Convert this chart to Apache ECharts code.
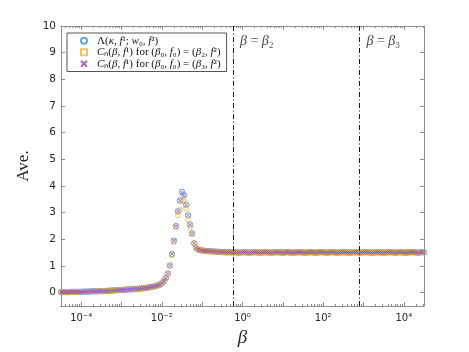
<!DOCTYPE html>
<html>
<head>
<meta charset="utf-8">
<script src="https://cdn.jsdelivr.net/npm/echarts@6/dist/echarts.min.js"></script>
<style>
html, body { margin: 0; padding: 0; background: #fff; }
#chart { width: 469px; height: 352px; }
</style>
</head>
<body>
<div id="chart"></div>
<script>
// x positions as log10(beta)
const log10Beta = [
    -4.5, -4.45, -4.4, -4.35, -4.3, -4.25, -4.2, -4.15, -4.1, -4.05,
    -4.0, -3.95, -3.9, -3.85, -3.8, -3.75, -3.7, -3.65, -3.6, -3.55,
    -3.5, -3.45, -3.4, -3.35, -3.3, -3.25, -3.2, -3.15, -3.1, -3.05,
    -3.0, -2.95, -2.9, -2.85, -2.8, -2.75, -2.7, -2.65, -2.6, -2.55,
    -2.5, -2.45, -2.4, -2.35, -2.3, -2.25, -2.2, -2.15, -2.1,
    -2.05, -2.0, -1.95, -1.9, -1.85, -1.8, -1.75, -1.7, -1.65, -1.6, -1.55, -1.5, -1.45, -1.4,
    -1.35, -1.3, -1.25, -1.2, -1.15, -1.1, -1.05, -1.0, -0.95, -0.9, -0.85, -0.8, -0.75, -0.7,
    -0.65, -0.6, -0.55,
    -0.5, -0.45, -0.4, -0.35, -0.3, -0.25, -0.2, -0.15, -0.1, -0.05,
    0.0, 0.05, 0.1, 0.15, 0.2, 0.25, 0.3, 0.35, 0.4, 0.45,
    0.5, 0.55, 0.6, 0.65, 0.7, 0.75, 0.8, 0.85, 0.9, 0.95,
    1.0, 1.05, 1.1, 1.15, 1.2, 1.25, 1.3, 1.35, 1.4, 1.45,
    1.5, 1.55, 1.6, 1.65, 1.7, 1.75, 1.8, 1.85, 1.9, 1.95,
    2.0, 2.05, 2.1, 2.15, 2.2, 2.25, 2.3, 2.35, 2.4, 2.45,
    2.5, 2.55, 2.6, 2.65, 2.7, 2.75, 2.8, 2.85, 2.9, 2.95,
    3.0, 3.05, 3.1, 3.15, 3.2, 3.25, 3.3, 3.35, 3.4, 3.45,
    3.5, 3.55, 3.6, 3.65, 3.7, 3.75, 3.8, 3.85, 3.9, 3.95,
    4.0, 4.05, 4.1, 4.15, 4.2, 4.25, 4.3, 4.35, 4.4, 4.45,
    4.5
];
const lambdaAve = [
    0.02, 0.02, 0.02, 0.02, 0.02, 0.03, 0.03, 0.03, 0.03, 0.03,
    0.03, 0.04, 0.04, 0.04, 0.04, 0.05, 0.05, 0.05, 0.05, 0.06,
    0.06, 0.06, 0.06, 0.07, 0.07, 0.08, 0.08, 0.09, 0.09, 0.10,
    0.10, 0.11, 0.11, 0.12, 0.12, 0.13, 0.13, 0.14, 0.14, 0.15,
    0.16, 0.17, 0.18, 0.19, 0.20, 0.22, 0.23, 0.25, 0.27,
    0.30, 0.35, 0.43, 0.55, 0.72, 1.02, 1.45, 1.95, 2.50, 3.05, 3.45, 3.78, 3.65, 3.30,
    2.90, 2.55, 2.22, 1.85, 1.68, 1.62, 1.60, 1.58, 1.57, 1.56, 1.56, 1.55, 1.55, 1.54,
    1.54, 1.53, 1.53,
    1.52, 1.52, 1.51, 1.52, 1.51, 1.51, 1.52, 1.51, 1.50, 1.51,
    1.51, 1.52, 1.51, 1.50, 1.51, 1.51, 1.52, 1.51, 1.51, 1.50,
    1.51, 1.52, 1.51, 1.51, 1.50, 1.51, 1.51, 1.52, 1.51, 1.51,
    1.50, 1.51, 1.52, 1.51, 1.51, 1.50, 1.51, 1.51, 1.52, 1.51,
    1.51, 1.50, 1.51, 1.51, 1.52, 1.51, 1.50, 1.51, 1.51, 1.52,
    1.51, 1.51, 1.50, 1.51, 1.52, 1.51, 1.51, 1.50, 1.51, 1.51,
    1.52, 1.51, 1.51, 1.50, 1.51, 1.51, 1.52, 1.51, 1.50, 1.51,
    1.51, 1.52, 1.51, 1.51, 1.50, 1.51, 1.51, 1.52, 1.51, 1.51,
    1.50, 1.51, 1.51, 1.52, 1.51, 1.51, 1.50, 1.51, 1.52, 1.51,
    1.51, 1.50, 1.51, 1.51, 1.52, 1.51, 1.51, 1.50, 1.51, 1.52,
    1.51
];
const cnBeta2 = [
    0.02, 0.02, 0.02, 0.02, 0.02, 0.03, 0.03, 0.03, 0.03, 0.03,
    0.03, 0.04, 0.04, 0.04, 0.04, 0.05, 0.05, 0.05, 0.05, 0.06,
    0.06, 0.06, 0.06, 0.07, 0.07, 0.08, 0.08, 0.09, 0.09, 0.10,
    0.10, 0.11, 0.11, 0.12, 0.12, 0.13, 0.13, 0.14, 0.14, 0.15,
    0.16, 0.17, 0.18, 0.19, 0.20, 0.22, 0.23, 0.25, 0.27,
    0.30, 0.35, 0.43, 0.55, 0.72, 1.00, 1.40, 1.90, 2.45, 2.90, 3.10, 3.45, 3.42, 3.15,
    2.75, 2.45, 2.20, 1.85, 1.68, 1.62, 1.60, 1.58, 1.57, 1.56, 1.56, 1.55, 1.55, 1.54,
    1.54, 1.53, 1.53,
    1.52, 1.51, 1.52, 1.51, 1.51, 1.52, 1.51, 1.50, 1.51, 1.51,
    1.52, 1.51, 1.50, 1.51, 1.51, 1.52, 1.51, 1.51, 1.50, 1.51,
    1.52, 1.51, 1.51, 1.50, 1.51, 1.51, 1.52, 1.51, 1.51, 1.50,
    1.51, 1.52, 1.51, 1.51, 1.50, 1.51, 1.51, 1.52, 1.51, 1.51,
    1.50, 1.51, 1.51, 1.52, 1.51, 1.50, 1.51, 1.51, 1.52, 1.51,
    1.51, 1.50, 1.51, 1.52, 1.51, 1.51, 1.50, 1.51, 1.51, 1.52,
    1.51, 1.51, 1.50, 1.51, 1.51, 1.52, 1.51, 1.50, 1.51, 1.51,
    1.52, 1.51, 1.51, 1.50, 1.51, 1.51, 1.52, 1.51, 1.51, 1.50,
    1.51, 1.51, 1.52, 1.51, 1.51, 1.50, 1.51, 1.52, 1.51, 1.51,
    1.50, 1.51, 1.51, 1.52, 1.51, 1.51, 1.50, 1.51, 1.52, 1.51,
    1.51
];
const cnBeta3 = [
    0.02, 0.02, 0.02, 0.02, 0.02, 0.03, 0.03, 0.03, 0.03, 0.03,
    0.03, 0.04, 0.04, 0.04, 0.04, 0.05, 0.05, 0.05, 0.05, 0.06,
    0.06, 0.06, 0.06, 0.07, 0.07, 0.08, 0.08, 0.09, 0.09, 0.10,
    0.10, 0.11, 0.11, 0.12, 0.12, 0.13, 0.13, 0.14, 0.14, 0.15,
    0.16, 0.17, 0.18, 0.19, 0.20, 0.22, 0.23, 0.25, 0.27,
    0.30, 0.35, 0.43, 0.55, 0.72, 1.02, 1.45, 1.95, 2.50, 3.05, 3.45, 3.76, 3.63, 3.28,
    2.90, 2.55, 2.22, 1.85, 1.68, 1.62, 1.60, 1.58, 1.57, 1.56, 1.56, 1.55, 1.55, 1.54,
    1.54, 1.53, 1.53,
    1.52, 1.52, 1.51, 1.52, 1.51, 1.51, 1.52, 1.51, 1.50, 1.51,
    1.51, 1.52, 1.51, 1.50, 1.51, 1.51, 1.52, 1.51, 1.51, 1.50,
    1.51, 1.52, 1.51, 1.51, 1.50, 1.51, 1.51, 1.52, 1.51, 1.51,
    1.50, 1.51, 1.52, 1.51, 1.51, 1.50, 1.51, 1.51, 1.52, 1.51,
    1.51, 1.50, 1.51, 1.51, 1.52, 1.51, 1.50, 1.51, 1.51, 1.52,
    1.51, 1.51, 1.50, 1.51, 1.52, 1.51, 1.51, 1.50, 1.51, 1.51,
    1.52, 1.51, 1.51, 1.50, 1.51, 1.51, 1.52, 1.51, 1.50, 1.51,
    1.51, 1.52, 1.51, 1.51, 1.50, 1.51, 1.51, 1.52, 1.51, 1.51,
    1.50, 1.51, 1.51, 1.52, 1.51, 1.51, 1.50, 1.51, 1.52, 1.51,
    1.51, 1.50, 1.51, 1.51, 1.52, 1.51, 1.51, 1.50, 1.51, 1.52,
    1.51
];

const markBetas = [0.58, 794];
const markLabels = ['{i|β} = {i|β}₂', '{i|β} = {i|β}₃'];
const markLabelY = 9.42;

const xMajorTicks = [-4, -3, -2, -1, 0, 1, 2, 3, 4];
const xLabelTicks = [-4, -2, 0, 2, 4];
const xTickText = { '-4': '10⁻⁴', '-2': '10⁻²', '0': '10⁰', '2': '10²', '4': '10⁴' };
const yTicks = [0, 1, 2, 3, 4, 5, 6, 7, 8, 9, 10];

const legendNames = ['lambda', 'cn2', 'cn3'];
const legendTexts = {
    lambda: 'Λ({i|κ}, {i|f}¹; {i|w}₀, {i|f}²)',
    cn2: '{i|C}ₙ({i|β}, {i|f}¹) for ({i|β}₀, {i|f}₀) = ({i|β}₂, {i|f}²)',
    cn3: '{i|C}ₙ({i|β}, {i|f}¹) for ({i|β}₀, {i|f}₀) = ({i|β}₃, {i|f}²)'
};

// minor log ticks (2..9 x 10^k) in log10 space
const xMinorTicks = [];
for (let k = -5; k <= 4; k++) {
    for (let m = 2; m <= 9; m++) {
        const v = k + Math.log10(m);
        if (v > -4.5 && v < 4.5) xMinorTicks.push(v);
    }
}

const xMin = -4.5, xMax = 4.5;
const axisColor = '#8c8c8c';
const tickFont = 'DejaVu Sans';
const serif = 'Liberation Serif';

function pairs(ys) {
    return log10Beta.map((x, i) => [x, ys[i]]);
}

function xAxisOf(position, ticks, len) {
    return {
        type: 'value',
        position: position,
        min: xMin,
        max: xMax,
        axisLine: { show: true, onZero: false, lineStyle: { color: axisColor, width: 1 } },
        axisTick: { show: true, inside: true, length: len, customValues: ticks, lineStyle: { color: axisColor } },
        axisLabel: { show: false },
        splitLine: { show: false }
    };
}

function yAxisOf(position) {
    return {
        type: 'value',
        min: -0.5,
        max: 10,
        position: position,
        axisLine: { show: true, onZero: false, lineStyle: { color: axisColor } },
        axisTick: { show: true, inside: true, length: 4, customValues: yTicks, lineStyle: { color: axisColor } },
        axisLabel: { show: false },
        splitLine: { show: false }
    };
}

const chart = echarts.init(document.getElementById('chart'), null, { renderer: 'canvas' });

const bottomMain = xAxisOf('bottom', xMajorTicks, 4);
bottomMain.axisLabel = {
    show: true,
    customValues: xLabelTicks,
    margin: 7,
    fontFamily: tickFont,
    fontSize: 10,
    color: '#262626',
    formatter: v => xTickText[String(Math.round(v))]
};
bottomMain.name = 'β';
bottomMain.nameLocation = 'middle';
bottomMain.nameGap = 22;
bottomMain.nameTextStyle = { fontFamily: serif, fontStyle: 'italic', fontSize: 19, color: '#262626' };

const leftMain = yAxisOf('left');
leftMain.name = 'Ave.';
leftMain.nameLocation = 'middle';
leftMain.nameGap = 27;
leftMain.nameRotate = 90;
leftMain.nameTextStyle = { fontFamily: serif, fontSize: 17, color: '#262626' };
leftMain.axisLabel = { show: true, customValues: yTicks, margin: 5, fontFamily: tickFont, fontSize: 10.5, color: '#262626' };

const option = {
    animation: false,
    grid: { left: 61, right: 45, top: 26, bottom: 40, containLabel: false },
    legend: {
        data: legendNames,
        orient: 'vertical',
        left: 67,
        top: 33,
        padding: [2, 6, 2, 13],
        itemGap: 0,
        itemWidth: 6,
        itemHeight: 6,
        borderColor: '#555',
        borderWidth: 1,
        borderRadius: 0,
        backgroundColor: '#fff',
        formatter: name => legendTexts[name],
        textStyle: {
            fontFamily: serif, fontSize: 11, lineHeight: 11.5, color: '#111', padding: [0, 0, 0, 5],
            rich: { i: { fontFamily: serif, fontSize: 11, lineHeight: 11.5, fontStyle: 'italic', color: '#111' } }
        }
    },
    xAxis: [
        bottomMain,
        xAxisOf('bottom', xMinorTicks, 2),
        xAxisOf('top', xMajorTicks, 4),
        xAxisOf('top', xMinorTicks, 2)
    ],
    yAxis: [leftMain, yAxisOf('right')],
    series: [
        {
            name: 'lambda',
            type: 'scatter',
            symbol: 'circle',
            symbolSize: 5.5,
            itemStyle: { color: 'rgba(0,0,0,0)', borderColor: '#3d8fdb', borderWidth: 1 },
            emphasis: { disabled: true },
            data: pairs(lambdaAve)
        },
        {
            name: 'cn2',
            type: 'scatter',
            symbol: 'rect',
            symbolSize: 4.2,
            itemStyle: { color: 'rgba(0,0,0,0)', borderColor: '#f0b23c', borderWidth: 0.9 },
            emphasis: { disabled: true },
            data: pairs(cnBeta2)
        },
        {
            name: 'cn3',
            type: 'scatter',
            symbol: 'path://M0,0L10,10M0,10L10,0',
            symbolSize: 3.8,
            itemStyle: { color: 'rgba(0,0,0,0)', borderColor: '#9a3fa8', borderWidth: 0.9 },
            emphasis: { disabled: true },
            data: pairs(cnBeta3)
        },
        {
            name: 'marks',
            type: 'scatter',
            symbolSize: 0,
            silent: true,
            data: markBetas.map((b, i) => ({ value: [Math.log10(b), markLabelY], label: { formatter: markLabels[i] } })),
            label: {
                show: true,
                position: 'right',
                distance: 7,
                fontFamily: serif,
                fontSize: 14,
                color: '#111',
                rich: { i: { fontFamily: serif, fontSize: 14, fontStyle: 'italic', color: '#111' } }
            },
            markLine: {
                silent: true,
                symbol: ['none', 'none'],
                label: { show: false },
                lineStyle: { color: '#111', width: 1, type: [5, 2.5, 1, 2.5] },
                data: markBetas.map(b => ({ xAxis: Math.log10(b) }))
            }
        }
    ]
};

chart.setOption(option);
</script>
</body>
</html>
